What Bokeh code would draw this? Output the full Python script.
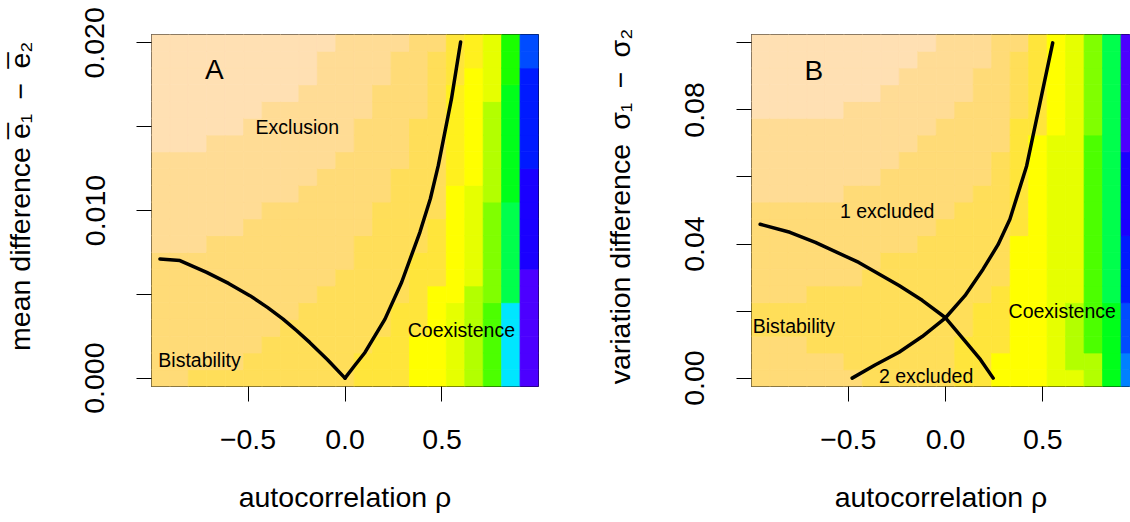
import math
from bokeh.plotting import figure
from bokeh.layouts import row
from bokeh.models import FixedTicker, ColumnDataSource
from bokeh.core.properties import value
from bokeh.embed import file_html
from bokeh.resources import INLINE

# topo.colors(21): code -> colour (low values blue, high values peach)
CODES = "123456789ABCDEFGHIJKL"
PALETTE = ["#4C00FF", "#1A00FF", "#001AFF", "#004CFF", "#0080FF", "#00B3FF", "#00E6FF",
           "#00FF4C", "#00FF1A", "#1AFF00", "#4CFF00", "#80FF00", "#B3FF00", "#E6FF00",
           "#FFFF00", "#FFF01E", "#FFE53B", "#FFDE59", "#FFDB77", "#FFDC95", "#FFE0B3"]

RHO = [-0.95, -0.855, -0.76, -0.665, -0.57, -0.475, -0.38, -0.285, -0.19, -0.095, 0.0,
       0.095, 0.19, 0.285, 0.38, 0.475, 0.57, 0.665, 0.76, 0.855, 0.95]
MEAN_DIFF = [0.000, 0.001, 0.002, 0.003, 0.004, 0.005, 0.006, 0.007, 0.008, 0.009, 0.010,
             0.011, 0.012, 0.013, 0.014, 0.015, 0.016, 0.017, 0.018, 0.019, 0.020]
VAR_DIFF = [0.000, 0.005, 0.010, 0.015, 0.020, 0.025, 0.030, 0.035, 0.040, 0.045, 0.050,
            0.055, 0.060, 0.065, 0.070, 0.075, 0.080, 0.085, 0.090, 0.095, 0.100]

# colour class per column (left to right), run-lengths from bottom row to top row
A_COLS = ["J:8 K:6 L:7", "J:8 K:6 L:7", "I:1 J:7 K:6 L:7", "I:1 J:8 K:6 L:6", "I:1 J:8 K:6 L:6",
          "I:2 J:8 K:6 L:5", "I:3 J:8 K:6 L:4", "I:4 J:7 K:6 L:4", "I:5 J:7 K:6 L:3",
          "I:6 J:7 K:7 L:1", "I:7 J:7 K:7", "H:2 I:7 J:7 K:5", "H:3 I:8 J:7 K:3",
          "H:5 I:8 J:7 K:1", "F:3 H:5 I:8 J:5", "F:6 H:4 I:10 J:1", "E:5 F:7 G:6 H:3",
          "D:6 E:6 F:7 G:2", "B:5 C:6 D:6 E:4", "7:5 8:6 9:7 A:3", "1:7 2:6 3:6 4:2"]
B_COLS = ["J:3 I:2 J:6 K:5 L:5", "J:3 I:2 J:6 K:5 L:5", "J:3 I:2 J:6 K:5 L:5",
          "J:2 I:4 J:5 K:5 L:5", "J:2 I:4 J:5 K:5 L:5", "J:1 I:5 J:6 K:5 L:4",
          "I:7 J:5 K:5 L:4", "I:8 J:5 K:5 L:3", "I:8 J:6 K:5 L:2", "I:9 J:6 K:5 L:1",
          "I:10 J:6 K:5", "H:3 I:8 J:6 K:4", "H:5 I:7 J:7 K:2", "F:2 H:4 I:8 J:7",
          "F:9 H:7 I:4 J:1", "F:15 H:6", "E:15 F:6", "E:1 D:4 E:16", "D:2 B:13 C:6",
          "9:5 8:16", "5:2 4:3 3:4 2:5 1:7"]

# boundary curves
A_LEFT_X = [-0.954, -0.851, -0.713, -0.60, -0.49, -0.40, -0.319, -0.25, -0.182, -0.09, 0.0]
A_LEFT_Y = [0.00711, 0.00701, 0.00631, 0.00565, 0.00492, 0.00422, 0.00352, 0.00284, 0.00213, 0.00110, 0.0]
A_RIGHT_X = [0.0, 0.05, 0.103, 0.206, 0.292, 0.386, 0.44, 0.481, 0.549, 0.596]
A_RIGHT_Y = [0.0, 0.00075, 0.00153, 0.00352, 0.00572, 0.0087, 0.0107, 0.01269, 0.01667, 0.02005]
B_DOWN_X = [-0.953, -0.80, -0.669, -0.446, -0.239, -0.12, 0.0, 0.107, 0.18, 0.245]
B_DOWN_Y = [0.0459, 0.0435, 0.0405, 0.0345, 0.0276, 0.0232, 0.0180, 0.0106, 0.0055, 0.0]
B_UP_X = [-0.48, -0.36, -0.239, -0.12, 0.0, 0.10, 0.193, 0.27, 0.331, 0.417, 0.486, 0.551]
B_UP_Y = [0.0, 0.0040, 0.0077, 0.0124, 0.018, 0.0246, 0.0325, 0.0398, 0.0474, 0.0633, 0.0822, 0.1]

A_LABELS = ["Exclusion", "Coexistence", "Bistability"]
A_LABEL_X = [-0.246, 0.60, -0.75]
A_LABEL_Y = [0.0150, 0.0029, 0.0011]
B_LABELS = ["1 excluded", "Coexistence", "Bistability", "2 excluded"]
B_LABEL_X = [-0.30, 0.60, -0.78, -0.10]
B_LABEL_Y = [0.050, 0.020, 0.0155, 0.0007]

FONT = "Liberation Sans"
SP = "\u2002"   # wide spacing around the minus sign, as in plotmath


def decode(cols):
    grid = []
    for col in cols:
        seq = []
        for tok in col.split():
            code, n = tok.split(":")
            seq += [code] * int(n)
        grid.append(seq)
    return grid


def cells(cols, xs, ys):
    grid = decode(cols)
    dx = xs[1] - xs[0]
    dy = ys[1] - ys[0]
    d = dict(left=[], right=[], bottom=[], top=[], color=[])
    for ci, seq in enumerate(grid):
        for ri, code in enumerate(seq):
            d["left"].append(xs[ci] - dx / 2)
            d["right"].append(xs[ci] + dx / 2)
            d["bottom"].append(ys[ri] - dy / 2)
            d["top"].append(ys[ri] + dy / 2)
            d["color"].append(PALETTE[CODES.index(code)])
    return ColumnDataSource(d)


def make_panel(cols, ys, x_end, width, left_border, right_border, ylabel,
               yticks, ylabels, letter, letter_xy, labels, lx, ly, curves):
    dx = RHO[1] - RHO[0]
    dy = ys[1] - ys[0]
    p = figure(width=width, height=522, output_backend="svg", toolbar_location=None,
               x_range=(RHO[0] - dx / 2, x_end), y_range=(ys[0] - dy / 2, ys[-1] + dy / 2),
               min_border_left=left_border, min_border_right=right_border,
               min_border_top=34, min_border_bottom=136)
    p.grid.visible = False
    p.outline_line_color = "black"
    p.outline_line_width = 1
    p.background_fill_color = "white"
    p.border_fill_color = "white"

    p.quad(left="left", right="right", bottom="bottom", top="top", source=cells(cols, RHO, ys),
           fill_color="color", line_color="color", line_width=0.8)

    for (cx, cy) in curves:
        p.line(cx, cy, line_color="black", line_width=3.5, line_join="round", line_cap="round")

    src = ColumnDataSource(dict(x=lx, y=ly, t=labels))
    p.text(x="x", y="y", text="t", source=src, text_font=value(FONT),
           text_font_size=value("19.5px"), text_align="center", text_baseline="middle",
           text_color="black")
    lsrc = ColumnDataSource(dict(x=[letter_xy[0]], y=[letter_xy[1]], t=[letter]))
    p.text(x="x", y="y", text="t", source=lsrc, text_font=value(FONT),
           text_font_size=value("28px"), text_align="center", text_baseline="middle",
           text_color="black")

    for ax in (p.xaxis[0], p.yaxis[0]):
        ax.axis_line_color = None
        ax.major_tick_line_color = "black"
        ax.major_tick_line_width = 1
        ax.major_tick_out = 15
        ax.major_tick_in = 0
        ax.minor_tick_line_color = None
        ax.major_label_text_font = FONT
        ax.major_label_text_font_size = "28.5px"
        ax.major_label_text_color = "black"
        ax.axis_label_text_font = FONT
        ax.axis_label_text_font_size = "28.5px"
        ax.axis_label_text_font_style = "normal"
        ax.axis_label_text_color = "black"

    p.xaxis.ticker = FixedTicker(ticks=[-0.5, 0.0, 0.5])
    p.xaxis.major_label_overrides = {-0.5: "\u22120.5", 0.0: "0.0", 0.5: "0.5"}
    p.xaxis.major_label_standoff = 28
    p.xaxis.axis_label = "autocorrelation \u03c1"
    p.xaxis.axis_label_standoff = 29

    p.yaxis.ticker = FixedTicker(ticks=yticks)
    p.yaxis.major_label_overrides = dict(zip(yticks, ylabels))
    p.yaxis.major_label_orientation = "parallel"
    p.yaxis.major_label_standoff = 32
    p.yaxis.axis_label = ylabel
    p.yaxis.axis_label_standoff = 47
    return p


pa = make_panel(A_COLS, MEAN_DIFF, RHO[-1] + 0.0475, 600, 150, 62,
                "\u2002\u2002mean difference e\u0305\u2081" + SP + "\u2212" + SP + "e\u0305\u2082",
                [0.0, 0.005, 0.01, 0.015, 0.02], ["0.000", "", "0.010", "", "0.020"],
                "A", (-0.673, 0.0184), A_LABELS, A_LABEL_X, A_LABEL_Y,
                [(A_LEFT_X, A_LEFT_Y), (A_RIGHT_X, A_RIGHT_Y)])
pb = make_panel(B_COLS, VAR_DIFF, 0.951, 530, 151, 0,
                "\u00a0variation difference\u2002\u03c3\u2081" + SP + "\u2212" + SP + "\u03c3\u2082",
                [0.0, 0.02, 0.04, 0.06, 0.08, 0.1], ["0.00", "", "0.04", "", "0.08", ""],
                "B", (-0.677, 0.0917), B_LABELS, B_LABEL_X, B_LABEL_Y,
                [(B_DOWN_X, B_DOWN_Y), (B_UP_X, B_UP_Y)])

layout = row(pa, pb)
open("out.html", "w").write(file_html(layout, INLINE))
